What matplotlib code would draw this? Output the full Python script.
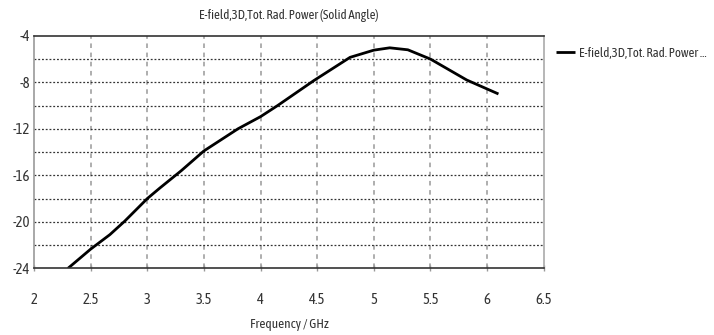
import matplotlib
matplotlib.use("Agg")
import matplotlib.pyplot as plt
from matplotlib.ticker import MultipleLocator

freq = [2.3, 2.5, 2.67, 2.8, 3.0, 3.11, 3.3, 3.5, 3.8, 4.0, 4.15, 4.47, 4.79, 5.0, 5.14, 5.3, 5.5, 5.82, 6.1]
power = [-24.0, -22.35, -21.1, -19.95, -18.0, -17.1, -15.6, -13.9, -12.0, -10.95, -10.0, -7.85, -5.85, -5.23, -5.03, -5.2, -6.0, -7.8, -9.0]
xticks = [2, 2.5, 3, 3.5, 4, 4.5, 5, 5.5, 6, 6.5]
xticklabels = ["2", "2.5", "3", "3.5", "4", "4.5", "5", "5.5", "6", "6.5"]
yticks = [-4, -8, -12, -16, -20, -24]
title = "E-field,3D,Tot. Rad. Power (Solid Angle)"
legend_label = "E-field,3D,Tot. Rad. Power ..."
xlabel = "Frequency / GHz"

plt.rcParams['font.family'] = ['Asap Condensed', 'DejaVu Sans']

fig = plt.figure(figsize=(7.14, 3.35), dpi=100)
ax = fig.add_axes([0.0476, 0.199, 0.714, 0.694])
ax.plot(freq, power, color='black', lw=2.0, label=legend_label, solid_capstyle='butt')
ax.set_xlim(2, 6.5)
ax.set_ylim(-24, -4)
ax.set_xticks(xticks)
ax.set_xticklabels(xticklabels, fontsize=10.5, color='#333333')
ax.set_yticks(yticks)
ax.set_yticklabels([str(v) for v in yticks], fontsize=10.5, color='#333333')
ax.yaxis.set_minor_locator(MultipleLocator(2))

# grid
for x in xticks[1:-1]:
    ax.axvline(x, color='#999999', lw=1.1, ls=(0, (3, 3)), zorder=0)
for y in range(-22, -4, 2):
    ax.axhline(y, color='#333333', lw=0.9, ls=(0, (1.5, 1.5)), zorder=0)

ax.tick_params(axis='x', length=5, width=1, color='#999999', direction='inout', pad=15)
ax.tick_params(axis='y', length=0, pad=3)
ax.tick_params(axis='y', which='minor', length=0)

ax.spines['bottom'].set_color('#333333')
ax.spines['top'].set_color('#333333')
ax.spines['left'].set_color('#999999')
ax.spines['right'].set_color('#aaaaaa')
for s in ax.spines.values():
    s.set_linewidth(1.2)

ax.set_title(title, fontsize=9.3, color='#333333', pad=12)
ax.set_xlabel(xlabel, fontsize=9.5, color='#333333', labelpad=8)

leg = ax.legend(loc='upper left', bbox_to_anchor=(1.013, 0.975), frameon=False,
                fontsize=9.3, handlelength=1.5, handletextpad=0.3, borderaxespad=0)
for t in leg.get_texts():
    t.set_color('#333333')

fig.savefig("out.png", dpi=100)
